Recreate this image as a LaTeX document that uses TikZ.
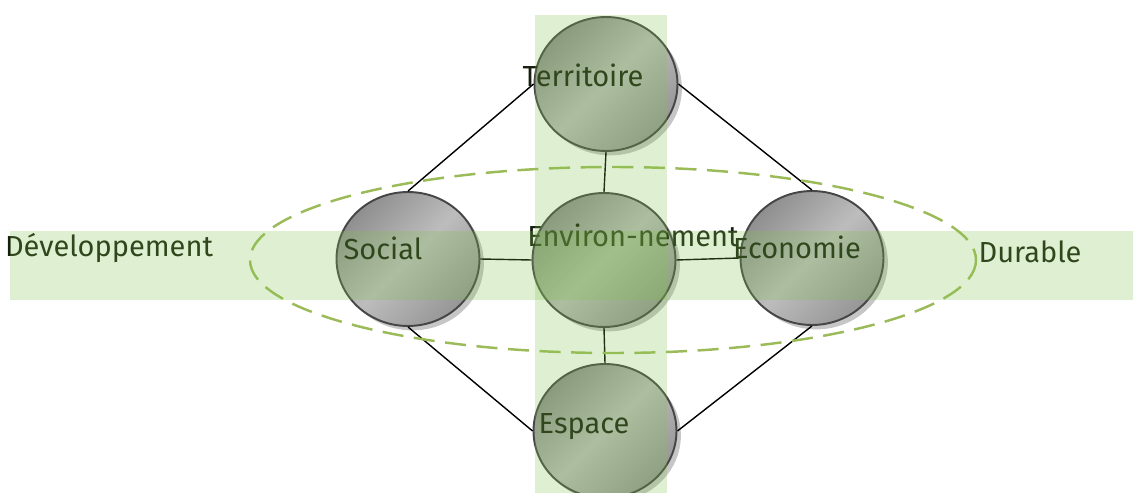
\documentclass[tikz,border=0pt]{standalone}
\usepackage{fontspec}
\setmainfont{Fira Sans}
\usetikzlibrary{shapes.geometric,shadows,positioning}
\definecolor{bandgreen}{RGB}{128,196,76}
\definecolor{dashgreen}{RGB}{155,187,89}
\definecolor{inkgreen}{RGB}{22,30,14}

\begin{document}
\begin{tikzpicture}[x=0.02cm, y=-0.02cm,
    pole/.style={ellipse, draw=gray!55!black, line width=1.1pt,
                 minimum width=2.86cm, minimum height=2.68cm, inner sep=0pt,
                 top color=gray!88, bottom color=gray!82, middle color=gray!52,
                 shading angle=45,
                 drop shadow={shadow xshift=2.5pt, shadow yshift=-2.5pt,
                              fill=gray, opacity=0.45}},
    word/.style={font=\fontsize{16.5}{20}\selectfont, text=inkgreen, inner sep=0pt},
    link/.style={draw=black, line width=0.8pt},
    band/.style={fill=bandgreen, opacity=0.25}]

  \useasboundingbox (0,0) rectangle (1133,493);

  %% ── Circles ─────────────────────────────────────────────
  \node[pole] (terr)  at (606, 84)  {};
  \node[pole] (soc)   at (408,259)  {};
  \node[pole] (env)   at (604,260)  {};
  \node[pole] (eco)   at (812,258)  {};
  \node[pole] (esp)   at (605,431)  {};

  %% ── Links between circles ───────────────────────────────
  \draw[link] (soc.north) -- (terr.west);
  \draw[link] (terr.east) -- (eco.north);
  \draw[link] (soc.south) -- (esp.west);
  \draw[link] (eco.south) -- (esp.east);
  \draw[link] (terr.south) -- (env.north);
  \draw[link] (env.south)  -- (esp.north);
  \draw[link] (soc.east)   -- (env.west);
  \draw[link] (env.east)   -- (eco.west);

  %% ── Labels ──────────────────────────────────────────────
  \node[word] (t_terr) at (583, 75)  {Territoire};
  \node[word] (t_soc)  at (383,248)  {Social};
  \node[word] (t_env)  at (633,235)  {Environ-nement};
  \node[word] (t_eco)  at (797,247)  {Economie};
  \node[word] (t_esp)  at (584,427)  {Espace};
  \node[word] (t_dev)  at (109,248)  {Développement};
  \node[word] (t_dur)  at (1030,252) {Durable};

  %% dashed ring round the middle row
  \draw[dashgreen, line width=1.4pt, dash pattern=on 12pt off 6pt]
    (613,260) ellipse [x radius=363, y radius=93];

  %% ── Bands on top ────────────────────────────────────────
  \fill[band] (535,15) rectangle (667,493);
  \fill[band] (10,231) rectangle (1133,300);

\end{tikzpicture}
\end{document}
